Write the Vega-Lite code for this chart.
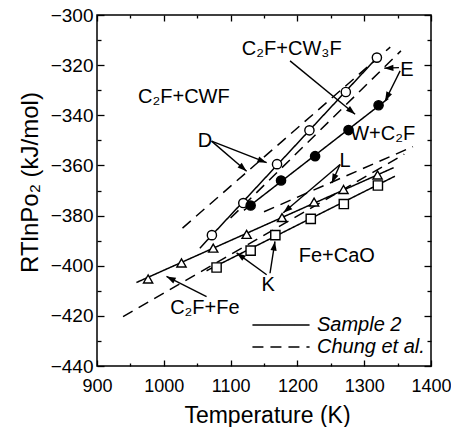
{
  "$schema": "https://vega.github.io/schema/vega-lite/v6.json",
  "width": 334,
  "height": 351,
  "autosize": {"type": "none"},
  "padding": {"left": 97, "top": 15, "right": 20, "bottom": 61},
  "background": "white",
  "config": {
    "view": {"stroke": "black", "strokeWidth": 1.5},
    "font": "Liberation Sans",
    "text": {"font": "Liberation Sans"}
  },
  "datasets": {
    "lines": [
      {"id": "D2", "src": "Sample 2", "T": 1054, "v": -393.0},
      {"id": "D2", "src": "Sample 2", "T": 1322, "v": -316.2},
      {"id": "E2", "src": "Sample 2", "T": 1120, "v": -377.9},
      {"id": "E2", "src": "Sample 2", "T": 1336, "v": -333.3},
      {"id": "L2", "src": "Sample 2", "T": 959, "v": -406.7},
      {"id": "L2", "src": "Sample 2", "T": 1344, "v": -360.9},
      {"id": "K2", "src": "Sample 2", "T": 1064, "v": -402.0},
      {"id": "K2", "src": "Sample 2", "T": 1346, "v": -364.3},
      {"id": "Dc", "src": "Chung et al.", "T": 1028, "v": -385.0},
      {"id": "Dc", "src": "Chung et al.", "T": 1339, "v": -312.8},
      {"id": "Ec", "src": "Chung et al.", "T": 1100, "v": -381.0},
      {"id": "Ec", "src": "Chung et al.", "T": 1355, "v": -314.3},
      {"id": "Kc", "src": "Chung et al.", "T": 939, "v": -420.3},
      {"id": "Kc", "src": "Chung et al.", "T": 1360, "v": -355.5},
      {"id": "Lc", "src": "Chung et al.", "T": 1150, "v": -378.5},
      {"id": "Lc", "src": "Chung et al.", "T": 1373, "v": -352.5}
    ],
    "points": [
      {"kind": "open", "T": 1072, "v": -387.8},
      {"kind": "open", "T": 1119, "v": -375.0},
      {"kind": "open", "T": 1169.5, "v": -359.5},
      {"kind": "open", "T": 1218, "v": -346.0},
      {"kind": "open", "T": 1272.5, "v": -330.7},
      {"kind": "open", "T": 1319, "v": -317.0},
      {"kind": "filled", "T": 1130, "v": -376.0},
      {"kind": "filled", "T": 1175.5, "v": -366.0},
      {"kind": "filled", "T": 1226.5, "v": -356.3},
      {"kind": "filled", "T": 1276.5, "v": -345.9},
      {"kind": "filled", "T": 1321.5, "v": -336.0},
      {"kind": "tri", "T": 976.5, "v": -405.3},
      {"kind": "tri", "T": 1026.5, "v": -398.9},
      {"kind": "tri", "T": 1074, "v": -393.0},
      {"kind": "tri", "T": 1124, "v": -387.5},
      {"kind": "tri", "T": 1177, "v": -380.8},
      {"kind": "tri", "T": 1225, "v": -374.6},
      {"kind": "tri", "T": 1269, "v": -369.6},
      {"kind": "tri", "T": 1320, "v": -363.8},
      {"kind": "sq", "T": 1079, "v": -400.7},
      {"kind": "sq", "T": 1130, "v": -394.0},
      {"kind": "sq", "T": 1167, "v": -387.8},
      {"kind": "sq", "T": 1220, "v": -381.3},
      {"kind": "sq", "T": 1269.5, "v": -375.4},
      {"kind": "sq", "T": 1320.5, "v": -368.0}
    ],
    "arrows": [
      {"T": 1189, "v": -318.3, "T2": 1286.4, "v2": -339.6},
      {"T": 1352, "v": -321.0, "T2": 1330, "v2": -321.2},
      {"T": 1353.8, "v": -322.3, "T2": 1331.3, "v2": -334.3},
      {"T": 1071.5, "v": -350.3, "T2": 1124, "v2": -362.3},
      {"T": 1071.5, "v": -350.3, "T2": 1154, "v2": -358.9},
      {"T": 1263.9, "v": -359.6, "T2": 1251.4, "v2": -367.0},
      {"T": 1263.9, "v": -359.6, "T2": 1178.9, "v2": -378.9},
      {"T": 1154, "v": -403.6, "T2": 1109, "v2": -394.9},
      {"T": 1159, "v": -403.0, "T2": 1166.4, "v2": -390.3},
      {"T": 1064, "v": -412.3, "T2": 1004, "v2": -404.3}
    ],
    "labels": [
      {"text": "C₂F+CWF", "T": 1030, "v": -332.8},
      {"text": "C₂F+CW₃F", "T": 1191.5, "v": -313.6},
      {"text": "E", "T": 1364, "v": -322.0},
      {"text": "W+C₂F", "T": 1327.6, "v": -347.6},
      {"text": "D", "T": 1061.5, "v": -350.3},
      {"text": "L", "T": 1271.5, "v": -358.3},
      {"text": "Fe+CaO", "T": 1259, "v": -396.3},
      {"text": "K", "T": 1156.4, "v": -407.5},
      {"text": "C₂F+Fe", "T": 1061.5, "v": -417.0}
    ]
  },
  "resolve": {"axis": {"x": "independent", "y": "independent"}},
  "layer": [
    {
      "data": {"name": "lines"},
      "mark": {"type": "line", "color": "black", "strokeWidth": 1.5},
      "encoding": {
        "x": {
          "field": "T", "type": "quantitative",
          "scale": {"domain": [900, 1400], "nice": false, "zero": false},
          "axis": {
            "orient": "bottom",
            "values": [900, 950, 1000, 1050, 1100, 1150, 1200, 1250, 1300, 1350, 1400],
            "format": "d",
            "labelExpr": "datum.value % 100 == 0 ? datum.label : ''",
            "tickSize": {"condition": {"test": "datum.value % 100 == 0", "value": -6}, "value": -3},
            "tickColor": "black", "tickWidth": 1.3,
            "domain": false, "grid": false,
            "labelFontSize": 18, "labelColor": "black", "labelPadding": 17,
            "labelFlush": false, "labelOverlap": false,
            "title": "Temperature  (K)", "titleFontSize": 23, "titleFontWeight": "normal",
            "titleColor": "black", "titleX": 170, "titleY": 49, "titleBaseline": "middle", "titleAlign": "center"
          }
        },
        "y": {
          "field": "v", "type": "quantitative",
          "scale": {"domain": [-440, -300], "nice": false, "zero": false},
          "axis": {
            "orient": "left",
            "values": [-440, -430, -420, -410, -400, -390, -380, -370, -360, -350, -340, -330, -320, -310, -300],
            "format": "d",
            "labelExpr": "datum.value % 20 == 0 ? datum.label : ''",
            "tickSize": {"condition": {"test": "datum.value % 20 == 0", "value": -7}, "value": -4},
            "tickColor": "black", "tickWidth": 1.3,
            "domain": false, "grid": false,
            "labelFontSize": 19, "labelColor": "black", "labelPadding": 11,
            "labelFlush": false, "labelOverlap": false,
            "title": "RTlnPo₂  (kJ/mol)", "titleFontSize": 24, "titleFontWeight": "normal",
            "titleColor": "black", "titleX": -67, "titleY": 167, "titleAngle": -90,
            "titleBaseline": "middle", "titleAlign": "center"
          }
        },
        "detail": {"field": "id"},
        "strokeDash": {
          "field": "src", "type": "nominal",
          "scale": {"domain": ["Sample 2", "Chung et al."], "range": [[1, 0], [11, 7]]},
          "legend": {
            "orient": "none", "legendX": 174, "legendY": 300, "padding": 0,
            "title": null, "symbolType": "M-8,0H8", "symbolSize": 51,
            "symbolStrokeColor": "black", "symbolStrokeWidth": 1.5, "symbolFillColor": "transparent",
            "labelFontSize": 20, "labelFontStyle": "italic", "labelColor": "black",
            "labelOffset": 26, "rowPadding": 2, "labelLimit": 200
          }
        }
      }
    },
    {
      "data": {"name": "points"},
      "mark": {"type": "point", "strokeWidth": 1.4, "size": 85, "opacity": 1},
      "encoding": {
        "x": {
          "field": "T", "type": "quantitative",
          "axis": {
            "orient": "top",
            "values": [900, 950, 1000, 1050, 1100, 1150, 1200, 1250, 1300, 1350, 1400],
            "labels": false, "title": null,
            "tickSize": {"condition": {"test": "datum.value % 100 == 0", "value": -6}, "value": -3},
            "tickColor": "black", "tickWidth": 1.3, "domain": false, "grid": false
          }
        },
        "y": {
          "field": "v", "type": "quantitative",
          "axis": {
            "orient": "right",
            "values": [-440, -430, -420, -410, -400, -390, -380, -370, -360, -350, -340, -330, -320, -310, -300],
            "labels": false, "title": null,
            "tickSize": {"condition": {"test": "datum.value % 20 == 0", "value": -7}, "value": -4},
            "tickColor": "black", "tickWidth": 1.3, "domain": false, "grid": false
          }
        },
        "shape": {
          "field": "kind", "type": "nominal",
          "scale": {"domain": ["open", "filled", "tri", "sq"], "range": ["circle", "circle", "triangle-up", "square"]},
          "legend": null
        },
        "fill": {
          "field": "kind", "type": "nominal",
          "scale": {"domain": ["open", "filled", "tri", "sq"], "range": ["white", "black", "white", "white"]},
          "legend": null
        },
        "stroke": {"value": "black"}
      }
    },
    {
      "data": {"name": "arrows"},
      "mark": {"type": "rule", "color": "black", "strokeWidth": 1.4},
      "encoding": {
        "x": {"field": "T", "type": "quantitative", "axis": null},
        "y": {"field": "v", "type": "quantitative", "axis": null},
        "x2": {"field": "T2"},
        "y2": {"field": "v2"}
      }
    },
    {
      "data": {"name": "arrows"},
      "transform": [
        {"calculate": "atan2((datum.T2 - datum.T) * 0.668, (datum.v2 - datum.v) * 2.507) * 180 / PI", "as": "ang"}
      ],
      "mark": {"type": "point", "shape": "M0,0L-0.75,2.2L0.75,2.2Z", "filled": true, "color": "black", "size": 70, "opacity": 1},
      "encoding": {
        "x": {"field": "T2", "type": "quantitative", "axis": null},
        "y": {"field": "v2", "type": "quantitative", "axis": null},
        "angle": {"field": "ang", "type": "quantitative", "scale": null}
      }
    },
    {
      "data": {"name": "labels"},
      "mark": {"type": "text", "fontSize": 20, "color": "black", "align": "center", "baseline": "middle"},
      "encoding": {
        "x": {"field": "T", "type": "quantitative", "axis": null},
        "y": {"field": "v", "type": "quantitative", "axis": null},
        "text": {"field": "text"}
      }
    }
  ]
}
